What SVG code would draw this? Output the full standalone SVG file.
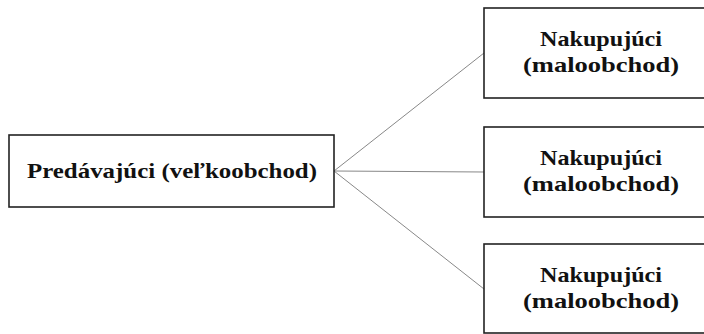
<svg xmlns="http://www.w3.org/2000/svg" width="704" height="334" viewBox="0 0 704 334">
<style>
.box{fill:#fff;stroke:#222;stroke-width:1.6}
.t{font-family:"Liberation Serif","Times New Roman",serif;font-weight:bold;fill:#111;text-anchor:middle}
.c{stroke:#888;stroke-width:1;fill:none}
</style>
<rect width="704" height="334" fill="#fff"/>
<g id="connectors">
<line class="c" x1="334" y1="171" x2="484" y2="53"/>
<line class="c" x1="334" y1="171" x2="484" y2="172"/>
<line class="c" x1="334" y1="171" x2="484" y2="289"/>
</g>
<g id="seller">
<rect class="box" x="9" y="135" width="325" height="72"/>
<text class="t" x="172" y="178" font-size="22" textLength="290" lengthAdjust="spacingAndGlyphs">Predávajúci (veľkoobchod)</text>
</g>
<g id="buyer1">
<rect class="box" x="484" y="8" width="230" height="90"/>
<text class="t" x="601" y="46" font-size="21" textLength="122" lengthAdjust="spacingAndGlyphs">Nakupujúci</text>
<text class="t" x="601" y="72" font-size="21" textLength="156" lengthAdjust="spacingAndGlyphs">(maloobchod)</text>
</g>
<g id="buyer2">
<rect class="box" x="484" y="127" width="230" height="90"/>
<text class="t" x="601" y="165" font-size="21" textLength="122" lengthAdjust="spacingAndGlyphs">Nakupujúci</text>
<text class="t" x="601" y="191" font-size="21" textLength="156" lengthAdjust="spacingAndGlyphs">(maloobchod)</text>
</g>
<g id="buyer3">
<rect class="box" x="484" y="244" width="230" height="89"/>
<text class="t" x="601" y="282" font-size="21" textLength="122" lengthAdjust="spacingAndGlyphs">Nakupujúci</text>
<text class="t" x="601" y="308" font-size="21" textLength="156" lengthAdjust="spacingAndGlyphs">(maloobchod)</text>
</g>
</svg>
